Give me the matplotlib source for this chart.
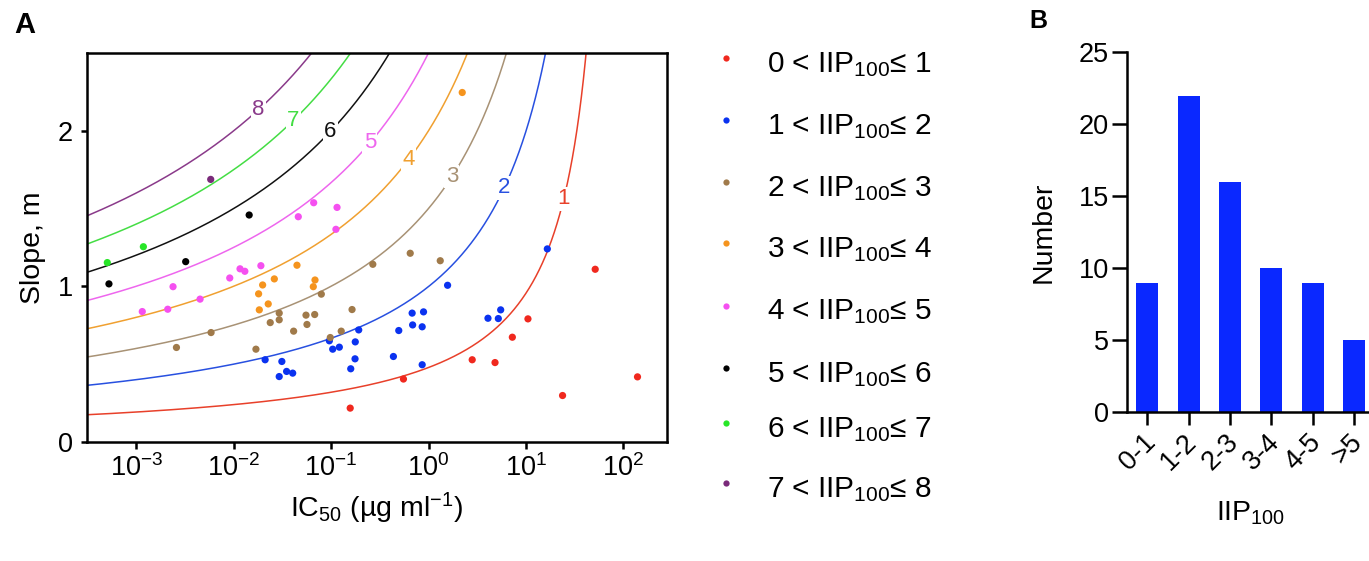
import numpy as np
import matplotlib
matplotlib.use("Agg")
import matplotlib.pyplot as plt
import matplotlib.transforms as mtransforms
from matplotlib.lines import Line2D
from matplotlib.ticker import NullLocator, FixedLocator

plt.rcParams['font.family'] = ['Liberation Sans', 'DejaVu Sans']
plt.rcParams['mathtext.fontset'] = 'custom'
plt.rcParams['mathtext.rm'] = 'Liberation Sans'
plt.rcParams['mathtext.it'] = 'Liberation Sans:italic'
plt.rcParams['mathtext.bf'] = 'Liberation Sans:bold'

# ---------------- data ----------------
# IIP100 classes (scatter data: IC50 in ug/ml, slope m)
ic50_0_1 = [0.157, 0.553, 2.81, 4.82, 7.26, 10.5, 23.8, 51.5, 140]
m_0_1 = [0.216, 0.403, 0.527, 0.509, 0.672, 0.790, 0.297, 1.109, 0.417]

ic50_1_2 = [0.021, 0.0312, 0.0293, 0.0349, 0.0403, 0.0959, 0.1038, 0.1214, 0.192,
            0.177, 0.176, 0.159, 0.436, 1.57, 0.679, 0.889, 0.687, 0.861, 0.495,
            0.861, 4.08, 5.21, 5.51, 16.6]
m_1_2 = [0.527, 0.516, 0.419, 0.452, 0.441, 0.649, 0.595, 0.608, 0.719,
         0.642, 0.533, 0.469, 0.548, 1.006, 0.827, 0.835, 0.751, 0.739, 0.715,
         0.495, 0.794, 0.792, 0.848, 1.240]

ic50_2_3 = [0.268, 0.00585, 0.00258, 0.0793, 0.0293, 0.0293, 0.0237, 0.0552, 0.0678,
            0.0565, 0.164, 0.0412, 0.127, 0.098, 0.0169, 0.649, 1.32]
m_2_3 = [1.141, 0.702, 0.606, 0.949, 0.827, 0.784, 0.766, 0.814, 0.818,
         0.754, 0.850, 0.711, 0.711, 0.670, 0.595, 1.212, 1.164]

ic50_3_4 = [0.0446, 0.0261, 0.0198, 0.0683, 0.0656, 0.018, 0.0226, 0.0183, 2.22]
m_3_4 = [1.135, 1.047, 1.008, 1.040, 0.997, 0.951, 0.886, 0.848, 2.246]

ic50_4_5 = [0.0662, 0.046, 0.115, 0.112, 0.0116, 0.0130, 0.019, 0.0091,
            0.00238, 0.00451, 0.0021, 0.00115]
m_4_5 = [1.537, 1.447, 1.507, 1.366, 1.112, 1.096, 1.132, 1.053,
         0.997, 0.917, 0.852, 0.837]

ic50_5_6 = [0.0144, 0.00321, 0.000523]
m_5_6 = [1.458, 1.158, 1.015]

ic50_6_7 = [0.00118, 0.000503]
m_6_7 = [1.254, 1.152]

ic50_7_8 = [0.0058]
m_7_8 = [1.687]

class_labels = ["0 < IIP$_{100}$≤ 1", "1 < IIP$_{100}$≤ 2", "2 < IIP$_{100}$≤ 3",
                "3 < IIP$_{100}$≤ 4", "4 < IIP$_{100}$≤ 5", "5 < IIP$_{100}$≤ 6",
                "6 < IIP$_{100}$≤ 7", "7 < IIP$_{100}$≤ 8"]

# iso-IIP curves: IIP = log10(1 + (D/IC50)^m), D = 100 ug/ml
iip_levels = [1, 2, 3, 4, 5, 6, 7, 8]
dose = 100.0
label_x = [24.5, 6.0, 1.74, 0.62, 0.25, 0.0975, 0.0408, 0.0178]

# histogram panel B
bin_labels = ["0-1", "1-2", "2-3", "3-4", "4-5", ">5"]
bin_counts = [9, 22, 16, 10, 9, 5]

# ---------------- styling ----------------
pt_colors = ['#f0281e', '#0a32f0', '#a07a4a', '#f5941e', '#f550f0', '#000000', '#28e628', '#7a2a7a']
line_colors = ['#e8402a', '#2850e0', '#a89275', '#f0a030', '#ee66ee', '#111111', '#44dd44', '#8a3a8a']

W, H = 1369, 561
fig = plt.figure(figsize=(W / 100, H / 100), dpi=100)

def fx(px):
    return px / W

def fy(py):
    return 1 - py / H

# ---------------- panel A ----------------
axA = fig.add_axes([fx(86.7), fy(441.7), fx(666.7) - fx(86.7), fy(53) - fy(441.7)])
axA.set_xscale('log')
xlo, xhi = 10 ** -3.51, 10 ** 2.446
axA.set_xlim(xlo, xhi)
axA.set_ylim(0, 2.5)

xx = np.logspace(np.log10(xlo) - 0.1, np.log10(dose) - 1e-4, 4000)
for n, col in zip(iip_levels, line_colors):
    mm = np.log10(10.0 ** n - 1) / np.log10(dose / xx)
    axA.plot(xx, mm, color=col, lw=1.1, zorder=2)

for n, col, lx in zip(iip_levels, line_colors, label_x):
    ly = np.log10(10.0 ** n - 1) / np.log10(dose / lx)
    axA.text(lx, ly, str(n), color=col, fontsize=16, ha='center', va='center', zorder=3,
             bbox=dict(facecolor='white', edgecolor='none', pad=1.0))

groups = [(ic50_0_1, m_0_1), (ic50_1_2, m_1_2), (ic50_2_3, m_2_3), (ic50_3_4, m_3_4),
          (ic50_4_5, m_4_5), (ic50_5_6, m_5_6), (ic50_6_7, m_6_7), (ic50_7_8, m_7_8)]
for (gx, gy), col, lab in zip(groups, pt_colors, class_labels):
    axA.scatter(gx, gy, s=27, color=col, edgecolors='none', zorder=4, label=lab)

axA.xaxis.set_major_locator(FixedLocator([1e-3, 1e-2, 1e-1, 1e0, 1e1, 1e2]))
axA.xaxis.set_minor_locator(NullLocator())
axA.set_yticks([0, 1, 2])
for sp in axA.spines.values():
    sp.set_linewidth(1.8)
axA.tick_params(axis='x', length=5, width=1.8, labelsize=19.5, pad=4)
axA.tick_params(axis='y', length=4, width=1.8, labelsize=19.5, pad=6)
axA.set_xlabel("IC$_{50}$ (µg ml$^{-1}$)", fontsize=20.5, labelpad=6)
axA.set_ylabel("Slope, m", fontsize=20.5, labelpad=8)

# manual legend
leg_y = [58.3, 120, 181.7, 243.3, 305.7, 368.3, 422.7, 483.3]
for yy, col, lab in zip(leg_y, pt_colors, class_labels):
    fig.add_artist(Line2D([fx(726)], [fy(yy)], marker='o', markersize=4.5, color=col,
                          markeredgewidth=0, transform=fig.transFigure))
    fig.text(fx(767), fy(yy + 14), lab, fontsize=21.5, ha='left', va='baseline')

fig.text(fx(14), fy(33), "A", fontsize=21, fontweight='bold', ha='left', va='baseline')

# ---------------- panel B ----------------
axB = fig.add_axes([fx(1126.7), fy(412.3), fx(1374.6) - fx(1126.7), fy(52.3) - fy(412.3)])
xpos = np.arange(len(bin_labels))
axB.bar(xpos, bin_counts, width=0.53, color='#0a28ff', edgecolor='none')
axB.set_xlim(-0.5, 5.5)
axB.set_ylim(0, 25)
axB.set_yticks([0, 5, 10, 15, 20, 25])
axB.set_xticks(xpos)
axB.set_xticklabels([])
lab_tr = mtransforms.blended_transform_factory(axB.transData, axB.transAxes) + \
    mtransforms.ScaledTranslation(-5 / 100, -17 / 100, fig.dpi_scale_trans)
for xp, lab in zip(xpos, bin_labels):
    axB.text(xp, 0, lab, transform=lab_tr, rotation=45, rotation_mode='anchor',
             ha='right', va='top', fontsize=19.5, clip_on=False)
for s in ['top', 'right']:
    axB.spines[s].set_visible(False)
for s in ['left', 'bottom']:
    axB.spines[s].set_linewidth(1.8)
axB.tick_params(axis='y', length=11, width=1.8, labelsize=19.5, pad=2)
axB.tick_params(axis='x', length=9.5, width=1.8, labelsize=19.5, pad=3)
axB.set_ylabel("Number", fontsize=20.5, labelpad=16)
axB.set_xlabel("IIP$_{100}$", fontsize=20.5, labelpad=50)

fig.text(fx(1029), fy(28), "B", fontsize=18, fontweight='bold', ha='left', va='baseline')

fig.savefig("out.png", dpi=100)
